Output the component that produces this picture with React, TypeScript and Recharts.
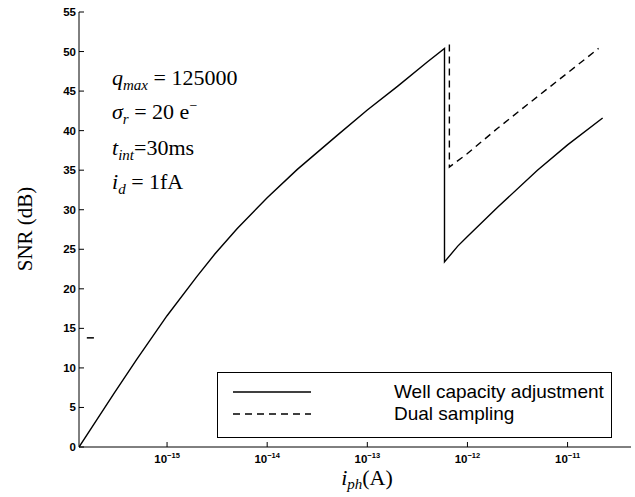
import React from 'react';
import { LineChart, Line, XAxis, YAxis, Legend, ReferenceLine } from 'recharts';

// photocurrent (A) and SNR (dB)
const WELL_CURRENT = [
  1.32e-16, 2e-16, 3e-16, 5e-16, 1e-15, 2e-15, 3e-15, 5e-15, 1e-14, 2e-14, 5e-14,
  1e-13, 2e-13, 4e-13, 5.9e-13, 5.9e-13, 8e-13, 1e-12, 2e-12, 5e-12, 1e-11, 2.24e-11,
];
const WELL_SNR = [
  0, 3.5, 6.9, 11.1, 16.6, 21.6, 24.4, 27.6, 31.5, 35.1, 39.4,
  42.6, 45.6, 48.7, 50.4, 23.4, 25.4, 26.6, 30.3, 35.0, 38.2, 41.6,
];
const DUAL_CURRENT = [6.6e-13, 6.6e-13, 1e-12, 2e-12, 5e-12, 1e-11, 2.04e-11];
const DUAL_SNR = [50.9, 35.4, 37.1, 40.3, 44.3, 47.3, 50.4];

// stray mark near the left axis
const STRAY_CURRENT = [1.58e-16, 1.86e-16];
const STRAY_SNR = 13.8;

const X_DOMAIN = [1.32e-16, 4.3e-11];
const X_TICKS = [1e-15, 1e-14, 1e-13, 1e-12, 1e-11];
const X_TICK_EXPONENTS = ['\u221215', '\u221214', '\u221213', '\u221212', '\u221211'];
const Y_TICKS = [0, 5, 10, 15, 20, 25, 30, 35, 40, 45, 50, 55];

const SERIES_NAMES = ['Well capacity adjustment', 'Dual sampling'];
const SERIES_DASH = ['', '7 5'];

const PARAMS = [
  { sym: 'q', sub: 'max', rest: ' = 125000' },
  { sym: '\u03c3', sub: 'r', rest: ' = 20 e', sup: '\u2212' },
  { sym: 't', sub: 'int', rest: '=30ms' },
  { sym: 'i', sub: 'd', rest: ' = 1fA' },
];

const wellData = WELL_CURRENT.map((x, i) => ({ x, snr: WELL_SNR[i] }));
const dualData = DUAL_CURRENT.map((x, i) => ({ x, snr: DUAL_SNR[i] }));

const SANS = '"Liberation Sans", Arial, Helvetica, sans-serif';
const SERIF = '"Liberation Serif", "Times New Roman", serif';

const XTick = ({ x, y, payload }: any) => {
  const idx = X_TICKS.indexOf(payload.value);
  return (
    <text x={x} y={y + 21} textAnchor="middle" fontFamily={SANS} fontWeight="bold" fontSize={11.5} fill="#000">
      <tspan>10</tspan>
      <tspan dy={-5} fontSize={7.5}>{X_TICK_EXPONENTS[idx]}</tspan>
    </text>
  );
};

const YTick = ({ x, y, payload }: any) => (
  <text x={x} y={y + 4} textAnchor="end" fontFamily={SANS} fontWeight="bold" fontSize={11.5} fill="#000">
    {payload.value}
  </text>
);

const XTitle = ({ viewBox }: any) => {
  const cx = viewBox.x + viewBox.width / 2 + 12;
  return (
    <text x={cx} y={viewBox.y + 38} textAnchor="middle" fontFamily={SERIF} fontSize={22} fill="#000">
      <tspan fontStyle="italic">i</tspan>
      <tspan fontStyle="italic" fontSize={15} dy={4}>ph</tspan>
      <tspan dy={-4}>(A)</tspan>
    </text>
  );
};

const YTitle = () => (
  <text
    x={25}
    y={229}
    transform="rotate(-90, 25, 229)"
    textAnchor="middle"
    dominantBaseline="central"
    fontFamily={SERIF}
    fontSize={21}
    fill="#000"
  >
    SNR (dB)
  </text>
);

const LegendBox = () => (
  <div
    style={{
      width: 395,
      height: 66,
      boxSizing: 'border-box',
      border: '1px solid #000',
      background: '#fff',
      fontFamily: SANS,
      fontSize: 19,
      color: '#000',
      paddingTop: 8,
    }}
  >
    {SERIES_NAMES.map((name, i) => (
      <div key={name} style={{ display: 'flex', alignItems: 'center', height: 22 }}>
        <svg width={176} height={22} style={{ flex: 'none' }}>
          <line x1={15} x2={93} y1={11} y2={11} stroke="#000" strokeWidth={1.3} strokeDasharray={SERIES_DASH[i]} />
        </svg>
        <span style={{ whiteSpace: 'nowrap' }}>{name}</span>
      </div>
    ))}
  </div>
);

export default function App() {
  return (
    <div style={{ position: 'absolute', left: 0, top: 0, width: 635, height: 497, background: '#fff' }}>
      <LineChart width={635} height={497} margin={{ top: 12, right: 4, left: 0, bottom: 0 }}>
        <XAxis
          xAxisId="b"
          type="number"
          dataKey="x"
          scale="log"
          domain={X_DOMAIN}
          ticks={X_TICKS}
          allowDataOverflow
          height={50}
          stroke="#000"
          tickSize={-5}
          tickMargin={0}
          tick={<XTick />}
          label={{ content: XTitle }}
        />
        <XAxis
          xAxisId="t"
          orientation="top"
          type="number"
          dataKey="x"
          scale="log"
          domain={X_DOMAIN}
          ticks={X_TICKS}
          allowDataOverflow
          height={0}
          stroke="#000"
          tickSize={-5}
          tick={false}
        />
        <YAxis
          yAxisId="l"
          type="number"
          domain={[0, 55]}
          ticks={Y_TICKS}
          width={79}
          stroke="#000"
          tickSize={-5}
          tickMargin={8}
          tick={<YTick />}
          label={{ content: YTitle }}
        />
        <YAxis
          yAxisId="r"
          orientation="right"
          type="number"
          domain={[0, 55]}
          ticks={Y_TICKS}
          width={0}
          stroke="#000"
          tickSize={-5}
          tick={false}
        />
        <Line
          xAxisId="b"
          yAxisId="l"
          data={wellData}
          dataKey="snr"
          name={SERIES_NAMES[0]}
          stroke="#000"
          strokeWidth={1.4}
          dot={false}
          isAnimationActive={false}
        />
        <Line
          xAxisId="b"
          yAxisId="l"
          data={dualData}
          dataKey="snr"
          name={SERIES_NAMES[1]}
          stroke="#000"
          strokeWidth={1.4}
          strokeDasharray={SERIES_DASH[1]}
          dot={false}
          isAnimationActive={false}
        />
        <ReferenceLine
          xAxisId="b"
          yAxisId="l"
          segment={[
            { x: STRAY_CURRENT[0], y: STRAY_SNR },
            { x: STRAY_CURRENT[1], y: STRAY_SNR },
          ]}
          stroke="#000"
          strokeWidth={1.5}
        />
        <Legend
          layout="vertical"
          align="center"
          verticalAlign="middle"
          content={() => <LegendBox />}
          wrapperStyle={{ position: 'absolute', left: 217, top: 372, width: 395, height: 66 }}
        />
      </LineChart>
      <div style={{ position: 'absolute', left: 112, top: 62, fontFamily: SERIF, fontSize: 22, color: '#000', lineHeight: '32.3px' }}>
        {PARAMS.map((p) => (
          <div key={p.sym} style={{ whiteSpace: 'pre' }}>
            <i>{p.sym}</i>
            <i style={{ fontSize: 15, position: 'relative', top: 5 }}>{p.sub}</i>
            {p.rest}
            {p.sup && <span style={{ fontSize: 14, position: 'relative', top: -9 }}>{p.sup}</span>}
          </div>
        ))}
      </div>
    </div>
  );
}
